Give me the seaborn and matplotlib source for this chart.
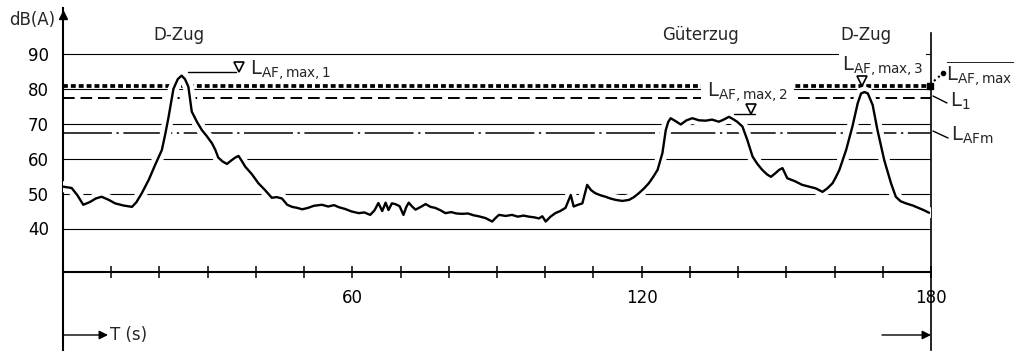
import matplotlib
matplotlib.use("Agg")
import matplotlib.pyplot as plt
import matplotlib.patheffects as pe
import pandas as pd
import seaborn as sns

# ---------------- data ----------------
time_s = [0, 1.8, 3.0, 4.2, 5.6, 6.8, 8.0, 9.5, 10.8, 12.5,
          14.3, 15.2, 16.3, 17.8, 19.1, 20.5, 21.2, 21.9, 22.9, 23.8,
          24.6, 25.3, 26.0, 26.7, 27.8, 28.8, 29.8, 30.9, 31.6, 32.2,
          33.1, 34.0, 34.9, 35.7, 36.4, 37.1, 37.8, 39.2, 40.5, 41.9,
          43.3, 44.3, 45.4, 46.5, 47.5, 48.6, 49.6, 50.8, 52.0, 53.7,
          55.0, 56.2, 57.2, 58.5, 59.8, 61.3, 62.5, 63.7, 64.6, 65.4,
          66.2, 66.9, 67.5, 68.2, 68.9, 69.8, 70.6, 71.2, 71.7, 72.4,
          73.1, 74.2, 75.2, 76.2, 77.2, 78.3, 79.3, 80.5, 81.6, 82.8,
          84.0, 85.1, 86.2, 87.6, 89.0, 89.7, 90.4, 91.8, 93.1, 94.3,
          95.5, 96.6, 97.7, 98.7, 99.4, 100.1, 101.1, 102.1, 103.1, 104.2,
          105.3, 105.9, 106.8, 107.7, 108.7, 109.5, 110.4, 111.5, 112.5, 113.5,
          114.6, 116.0, 117.4, 118.4, 119.4, 120.5, 121.5, 122.4, 123.3, 124.3,
          125.0, 125.5, 126.0, 127.0, 128.1, 129.3, 130.5, 131.9, 133.3, 134.6,
          136.0, 137.0, 138.1, 139.0, 139.8, 140.9, 141.9, 143.0, 144.0, 145.0,
          146.0, 146.8, 147.7, 148.5, 149.2, 150.2, 151.7, 153.3, 154.7, 156.1,
          157.5, 158.5, 159.6, 160.3, 161.0, 162.4, 163.7, 164.8, 165.5, 166.2,
          166.9, 167.9, 168.9, 170.3, 171.7, 172.7, 173.7, 174.8, 176.2, 177.6,
          178.6, 179.6]
level_db = [52.0, 51.6, 49.5, 46.8, 47.6, 48.6, 49.1, 48.2, 47.2, 46.6,
            46.2, 47.5, 50.0, 54.0, 58.2, 62.5, 67.0, 72.0, 80.0, 82.8,
            83.8, 82.8, 80.6, 73.5, 70.5, 68.2, 66.5, 64.4, 62.5, 60.3,
            59.2, 58.5, 59.5, 60.3, 60.8, 59.3, 57.7, 55.5, 53.0, 51.0,
            48.8, 49.0, 48.6, 46.8, 46.2, 45.9, 45.5, 45.9, 46.5, 46.8,
            46.3, 46.7, 46.1, 45.6, 44.9, 44.4, 44.6, 43.9, 45.2, 47.3,
            45.0, 47.4, 45.3, 47.2, 47.0, 46.4, 43.9, 46.2, 47.4, 46.3,
            45.4, 46.2, 47.0, 46.2, 45.9, 45.2, 44.4, 44.7, 44.3, 44.2,
            44.3, 43.8, 43.5, 43.0, 42.0, 43.0, 43.9, 43.6, 43.9, 43.4,
            43.7, 43.4, 43.2, 42.9, 43.5, 42.0, 43.4, 44.4, 45.0, 45.9,
            49.6, 46.3, 46.8, 47.2, 52.5, 51.0, 50.1, 49.5, 49.1, 48.6,
            48.2, 47.9, 48.2, 49.0, 50.1, 51.5, 53.0, 54.8, 56.8, 61.6,
            68.2, 70.5, 71.6, 70.8, 69.8, 71.0, 71.6, 71.0, 70.9, 71.2,
            70.6, 71.2, 72.0, 71.3, 70.6, 69.2, 65.4, 60.6, 58.5, 56.8,
            55.5, 54.8, 55.8, 56.8, 57.3, 54.4, 53.6, 52.5, 52.0, 51.5,
            50.5, 51.5, 53.0, 54.8, 56.8, 62.5, 69.2, 75.9, 78.7, 79.1,
            78.7, 75.4, 68.2, 59.6, 53.0, 49.1, 47.8, 47.2, 46.6, 45.8,
            45.2, 44.5]

grid_levels = [40, 50, 60, 70, 80, 90]
x_ticks = list(range(0, 181, 10))
x_tick_text = {60: "60", 120: "120", 180: "180"}

L_AFmax = 80.8      # energy-average of the maxima (thick dotted)
L_1 = 77.3          # percentile level (dashed)
L_AFm = 67.5        # average level (dash-dot)

train_names = ["D-Zug", "Güterzug", "D-Zug"]
train_times = [24.1, 132.1, 166.5]

# ---------------- figure ----------------
sns.set_theme(style="white")
plt.rcParams['font.family'] = ['DejaVu Sans']
plt.rcParams['mathtext.fontset'] = 'dejavusans'

W, H = 1014, 355
fig = plt.figure(figsize=(W / 100, H / 100), dpi=100)
PX0, PX1, PYT, PYB = 63, 931, 8, 350
ax = fig.add_axes([PX0 / W, (H - PYB) / H, (PX1 - PX0) / W, (PYB - PYT) / H])


def db_at(py):
    return 40 + (228.5 - py) / 3.49


def t_at(px):
    return (px - PX0) / (PX1 - PX0) * 180


ax.set_xlim(0, 180)
ax.set_ylim(db_at(PYB), db_at(PYT))
ax.set_facecolor("white")

# grid lines and reference levels
ax.hlines(grid_levels, 0, 180, colors="black", lw=0.8, zorder=1)
ax.plot([0, 180], [L_AFmax, L_AFmax], color="black", lw=2.7,
        dashes=(1.3, 0.8), dash_capstyle="butt", zorder=2)
ax.plot([0, 180], [L_1, L_1], color="black", lw=1.4,
        dashes=(6, 3), dash_capstyle="butt", zorder=2)
ax.plot([0, 180], [L_AFm, L_AFm], color="black", lw=1.1,
        dashes=(32, 3, 1.5, 3), dash_capstyle="butt", zorder=2)

# measured trace
df = pd.DataFrame({"t": time_s, "L": level_db})
sns.lineplot(data=df, x="t", y="L", ax=ax, color="black", lw=1.7,
             estimator=None, sort=False, zorder=5,
             path_effects=[pe.Stroke(linewidth=8, foreground="white"), pe.Normal()])
ax.set_xlabel("")
ax.set_ylabel("")

# spines / axes
ax.spines["top"].set_visible(False)
for s in ["left", "bottom", "right"]:
    ax.spines[s].set_color("black")
ax.spines["left"].set_linewidth(1.5)
ax.spines["bottom"].set_linewidth(1.5)
ax.spines["bottom"].set_position(("data", db_at(272)))
ax.spines["right"].set_linewidth(1.2)
ax.spines["right"].set_bounds(db_at(PYB), db_at(33))

ax.set_xticks(x_ticks)
ax.set_xticklabels([x_tick_text.get(t, "") for t in x_ticks])
ax.tick_params(axis="x", bottom=True, direction="inout", length=8, width=1.1,
               color="black", pad=8, labelsize=12, labelcolor="black")
ax.set_yticks(grid_levels)
ax.set_yticklabels([str(v) for v in grid_levels])
ax.tick_params(axis="y", left=True, length=0, pad=10, labelsize=12, labelcolor="black")

# arrow head on top of the level axis
ax.plot([0], [db_at(15)], marker="^", color="black", ms=6, clip_on=False, zorder=6)
fig.text(55 / W, 1 - 20 / H, "dB(A)", ha="right", va="center", fontsize=12)

# train names
for name, tt in zip(train_names, train_times):
    ax.text(tt, db_at(35), name, ha="center", va="center", fontsize=12)

box = dict(boxstyle="square,pad=0.15", fc="white", ec="none")
tri = dict(marker="v", ms=7, mfc="white", mec="black", mew=1.2, zorder=7)

# peak 1
ax.plot([t_at(188), t_at(236)], [db_at(72), db_at(72)], color="black", lw=1, zorder=3)
ax.plot([t_at(239)], [db_at(67)], **tri)
ax.text(t_at(250), db_at(70), r"$\mathregular{L_{AF,max,1}}$", ha="left", va="center",
        fontsize=14, zorder=6)
# peak 2
ax.plot([t_at(734), t_at(755)], [db_at(113.5), db_at(113.5)], color="black", lw=1, zorder=6)
ax.plot([t_at(751)], [db_at(108.5)], **tri)
ax.text(t_at(707), db_at(92), r"$\mathregular{L_{AF,max,2}}$", ha="left", va="center",
        fontsize=14, bbox=dict(boxstyle="square,pad=0.3", fc="white", ec="none"), zorder=6)
# peak 3
ax.plot([t_at(861.5)], [db_at(80.5)], **tri)
ax.text(t_at(842), db_at(66), r"$\mathregular{L_{AF,max,3}}$", ha="left", va="center",
        fontsize=14, bbox=box, zorder=6)

# right-hand legend labels
ax.plot([t_at(930)], [L_AFmax], marker="s", ms=4, color="black", clip_on=False, zorder=6)
ax.plot([t_at(934), t_at(942)], [db_at(81), db_at(74)], color="black", lw=1.5, ls=":",
        clip_on=False)
ax.plot([t_at(943)], [db_at(73)], marker="o", ms=3, color="black", clip_on=False)
ax.text(t_at(946), db_at(74), r"$\mathregular{\overline{L_{AF,max}}}$", ha="left",
        va="center", fontsize=14)
ax.plot([t_at(933), t_at(947)], [db_at(96), db_at(103)], color="black", lw=1, clip_on=False)
ax.text(t_at(950), db_at(101), r"$\mathregular{L_1}$", ha="left", va="center", fontsize=14)
ax.plot([t_at(933), t_at(948)], [db_at(131), db_at(138)], color="black", lw=1, clip_on=False)
ax.text(t_at(951), db_at(135), r"$\mathregular{L_{AFm}}$", ha="left", va="center", fontsize=14)

# time span arrows
y_arrow = db_at(335)
ax.annotate("", xy=(t_at(108), y_arrow), xytext=(0, y_arrow),
            arrowprops=dict(arrowstyle="-|>", color="black", lw=1, mutation_scale=13,
                            shrinkA=0, shrinkB=0))
ax.text(t_at(110), y_arrow, "T (s)", ha="left", va="center", fontsize=12)
ax.annotate("", xy=(180, y_arrow), xytext=(t_at(882), y_arrow),
            arrowprops=dict(arrowstyle="-|>", color="black", lw=1, mutation_scale=13,
                            shrinkA=0, shrinkB=0))

fig.savefig("out.png", dpi=100, facecolor="white")
